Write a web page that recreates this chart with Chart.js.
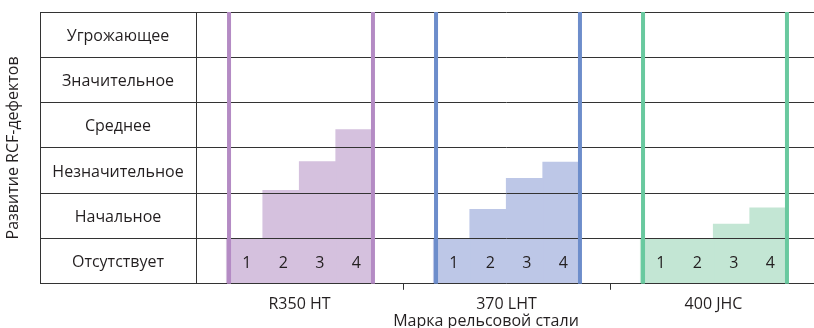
<!DOCTYPE html>
<html>
<head>
<meta charset="utf-8">
<script src="https://cdn.jsdelivr.net/npm/chart.js@4.4.1/dist/chart.umd.min.js"></script>
<style>
  html, body { margin: 0; padding: 0; background: #fff; overflow: hidden; }
  #wrap { width: 817px; height: 328px; }
</style>
</head>
<body>
<div id="wrap"><canvas id="myChart" width="817" height="328"></canvas></div>
<script>
// Марки стали (ось X)
const brands = ['R350 HT', '370 LHT', '400 JHC'];
// Уровни развития дефектов, снизу вверх (ось Y)
const levels = ['Отсутствует', 'Начальное', 'Незначительное', 'Среднее', 'Значительное', 'Угрожающее'];
// Номера ступеней
const stepLabels = ['1', '2', '3', '4'];
// Высота каждой ступени по маркам, в строках шкалы
const step1 = [1, 1, 1];
const step2 = [2.06, 1.64, 1.0];
const step3 = [2.69, 2.32, 1.31];
const step4 = [3.40, 2.68, 1.67];

const lineColors = ['#b48bc4', '#6d8dcb', '#69c99f'];
const fillColors = ['#d5c1de', '#bdc7e7', '#c3e6d4'];
const gridColor = '#333333';
const textColor = '#231f20';
const fontFamily = '"Open Sans", sans-serif';
const columnWidth = 156; // ширина колонки с подписями уровней

Chart.defaults.font.family = fontFamily;
Chart.defaults.font.size = 16;
Chart.defaults.color = textColor;

// ширина самой длинной подписи, чтобы отцентровать подписи в колонке
const measureCtx = document.createElement('canvas').getContext('2d');
measureCtx.font = '16px ' + fontFamily;
const widest = Math.max(...levels.map(l => measureCtx.measureText(l).width));

const stepValues = [step1, step2, step3, step4];

const decorPlugin = {
    id: 'decor',
    afterDraw(chart) {
        const { ctx, chartArea, scales: { y } } = chart;
        ctx.save();

        // рамка колонки подписей и ось Y
        ctx.strokeStyle = gridColor;
        ctx.lineWidth = 1;
        [chartArea.left - columnWidth, chartArea.left].forEach(px => {
            const cx = Math.round(px) + 0.5;
            ctx.beginPath();
            ctx.moveTo(cx, chartArea.top);
            ctx.lineTo(cx, chartArea.bottom);
            ctx.stroke();
        });

        // цветные вертикальные линии групп
        const first = chart.getDatasetMeta(0).data;
        const last = chart.getDatasetMeta(3).data;
        brands.forEach((b, i) => {
            const l = first[i].x - first[i].width / 2 + 2.5;
            const r = last[i].x + last[i].width / 2 + 0.5;
            ctx.strokeStyle = lineColors[i];
            ctx.lineWidth = 4;
            [l, r].forEach(px => {
                ctx.beginPath();
                ctx.moveTo(px, chartArea.top);
                ctx.lineTo(px, chartArea.bottom);
                ctx.stroke();
            });
        });

        // номера ступеней
        ctx.fillStyle = textColor;
        ctx.font = '16px ' + fontFamily;
        ctx.textAlign = 'center';
        ctx.textBaseline = 'middle';
        const yMid = y.getPixelForValue(0.5) + 2;
        chart.data.datasets.forEach((ds, di) => {
            chart.getDatasetMeta(di).data.forEach(bar => {
                ctx.fillText(ds.label, bar.x + 2, yMid);
            });
        });

        // подпись оси X
        ctx.fillText('Марка рельсовой стали', 486, 321);
        ctx.restore();
    }
};

const data = {
    labels: brands,
    datasets: stepLabels.map((s, i) => ({
        label: s,
        data: stepValues[i],
        backgroundColor: fillColors,
        borderWidth: 0,
        inflateAmount: 0.6,
        barPercentage: 1,
        categoryPercentage: 0.705
    }))
};

const config = {
    type: 'bar',
    data: data,
    options: {
        responsive: false,
        animation: false,
        devicePixelRatio: 1,
        layout: { padding: { top: 12, bottom: 9, left: 0, right: 0 } },
        plugins: {
            legend: { display: false },
            tooltip: { enabled: false }
        },
        scales: {
            x: {
                grid: {
                    drawOnChartArea: false,
                    tickLength: 6,
                    offset: true,
                    color: (c) => c.index === 0 ? 'rgba(0,0,0,0)' : gridColor
                },
                border: { color: gridColor },
                ticks: { padding: 5 }
            },
            y: {
                min: 0,
                max: 6,
                grid: { color: gridColor, lineWidth: 1, tickLength: columnWidth, z: 1 },
                border: { display: false },
                ticks: {
                    stepSize: 1,
                    autoSkip: false,
                    labelOffset: -21,
                    crossAlign: 'center',
                    padding: -columnWidth / 2 - widest / 2,
                    callback: (v) => levels[v] ?? ''
                },
                title: {
                    display: true,
                    text: 'Развитие RCF-дефектов',
                    padding: { top: 4, bottom: 4 }
                },
                afterFit: (scale) => { scale.width = 196; }
            }
        }
    },
    plugins: [decorPlugin]
};

const myChart = new Chart(document.getElementById('myChart'), config);
</script>
</body>
</html>
